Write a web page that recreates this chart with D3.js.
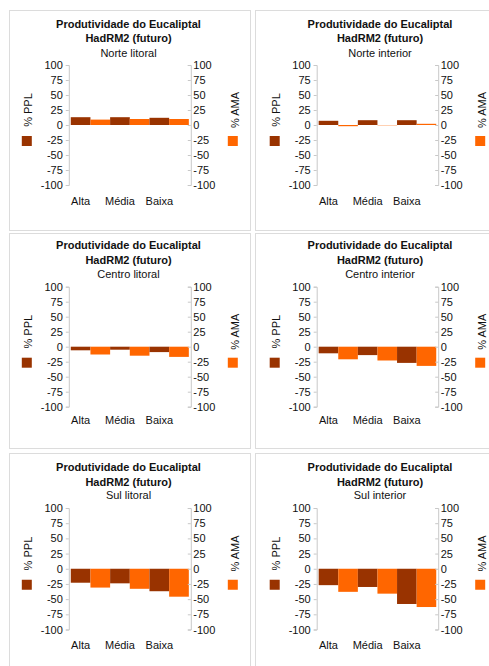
<!DOCTYPE html>
<html><head><meta charset="utf-8">
<script src="https://cdn.jsdelivr.net/npm/d3@7"></script>
<style>
body{margin:0;background:#fff}
svg{display:block}
text{font-family:"Liberation Sans",Arial,Helvetica,sans-serif}
</style>
</head><body>
<svg id="c" width="489" height="666"></svg>
<script>
// ---- data ----
const categories = ["Alta", "Média", "Baixa"];
const seriesKeys = ["PPL", "AMA"];
const seriesLabels = ["% PPL", "% AMA"];
const regions = ["Norte litoral", "Norte interior", "Centro litoral", "Centro interior", "Sul litoral", "Sul interior"];
const pplValues = [
  [13, 13, 12],
  [7, 8, 8],
  [-6, -5, -9],
  [-11, -14, -27],
  [-23, -24, -37],
  [-27, -30, -58]
];
const amaValues = [
  [9, 10, 10],
  [-2, -0.5, 2],
  [-13, -15, -17],
  [-21, -23, -32],
  [-31, -33, -46],
  [-38, -41, -63]
];
const yTicks = [100, 75, 50, 25, 0, -25, -50, -75, -100];
const titleLine1 = "Produtividade do Eucaliptal";
const titleLine2 = "HadRM2 (futuro)";

// ---- layout ----
const colors = {PPL: "#993300", AMA: "#FF6600"};
const cols = [
  {panelX: 9, panelW: 241, axL: 68.8, axR: 190.8, titleX: 128.5},
  {panelX: 255, panelW: 241, axL: 316.7, axR: 438.2, titleX: 380}
];
const rows = [
  {panelY: 10, panelH: 220, t1: 27.5, t2: 42, t3: 56.5, yTop: 65, yBot: 185, cat: 205},
  {panelY: 233, panelH: 215, t1: 249, t2: 264, t3: 278, yTop: 286.7, yBot: 406.7, cat: 424},
  {panelY: 453, panelH: 230, t1: 471, t2: 485.5, t3: 499, yTop: 508, yBot: 629.5, cat: 648.5}
];

const svg = d3.select("#c");
const fs = 11;
const fmt = d => String(d); // plain hyphen-minus like the reference

regions.forEach((region, i) => {
  const col = cols[i % 2], row = rows[Math.floor(i / 2)];
  const g = svg.append("g");

  g.append("rect")
    .attr("x", col.panelX + 0.5).attr("y", row.panelY + 0.5)
    .attr("width", col.panelW).attr("height", row.panelH)
    .attr("fill", "none").attr("stroke", "#dcdcdc");

  // titles
  g.append("text").attr("x", col.titleX).attr("y", row.t1)
    .attr("text-anchor", "middle").attr("font-size", fs).attr("font-weight", "bold")
    .attr("fill", "#111").text(titleLine1);
  g.append("text").attr("x", col.titleX).attr("y", row.t2)
    .attr("text-anchor", "middle").attr("font-size", fs).attr("font-weight", "bold")
    .attr("fill", "#111").text(titleLine2);
  g.append("text").attr("x", col.titleX).attr("y", row.t3)
    .attr("text-anchor", "middle").attr("font-size", fs)
    .attr("fill", "#111").text(region);

  const y = d3.scaleLinear().domain([-100, 100]).range([row.yBot, row.yTop]);
  const x = d3.scaleBand().domain(categories).range([col.axL, col.axR])
    .paddingInner(0).paddingOuter(0.05);
  const xs = d3.scaleBand().domain(seriesKeys).range([0, x.bandwidth()]).padding(0);

  // bars
  const rowsData = categories.map((c, k) => ({cat: c, PPL: pplValues[i][k], AMA: amaValues[i][k]}));
  rowsData.forEach(d => {
    seriesKeys.forEach(s => {
      const v = d[s];
      g.append("rect")
        .attr("x", x(d.cat) + xs(s))
        .attr("width", xs.bandwidth())
        .attr("y", y(Math.max(0, v)))
        .attr("height", Math.abs(y(v) - y(0)))
        .attr("fill", colors[s]);
    });
  });

  // axes
  const axL = d3.axisLeft(y).tickValues(yTicks).tickFormat(fmt).tickSize(3).tickPadding(3);
  const axR = d3.axisRight(y).tickValues(yTicks).tickFormat(fmt).tickSize(-3).tickPadding(2.5);
  const gl = g.append("g").attr("transform", `translate(${col.axL},0)`).call(axL);
  const gr = g.append("g").attr("transform", `translate(${col.axR},0)`).call(axR);
  [gl, gr].forEach(a => {
    a.select(".domain").attr("stroke", "#c8c8c8");
    a.selectAll(".tick line").attr("stroke", "#c8c8c8");
    a.selectAll(".tick text").attr("font-size", fs).attr("fill", "#111")
      .style("font-family", '"Liberation Sans",Arial,sans-serif');
  });

  // category labels (centered on first-series bars)
  categories.forEach(c => {
    g.append("text")
      .attr("x", x(c) + xs("PPL") + xs.bandwidth() / 2)
      .attr("y", row.cat)
      .attr("text-anchor", "middle").attr("font-size", fs).attr("fill", "#111")
      .text(c);
  });

  // side labels and legend squares
  const labY = y(25);
  const sqY = y(0) + 11;
  g.append("text")
    .attr("transform", `translate(${col.axL - 37},${labY}) rotate(-90)`)
    .attr("text-anchor", "middle").attr("font-size", fs).attr("fill", "#111")
    .text(seriesLabels[0]);
  g.append("rect").attr("x", col.axL - 47).attr("y", sqY)
    .attr("width", 10).attr("height", 10).attr("fill", colors.PPL);
  g.append("text")
    .attr("transform", `translate(${col.axR + 48},${labY}) rotate(-90)`)
    .attr("text-anchor", "middle").attr("font-size", fs).attr("fill", "#111")
    .text(seriesLabels[1]);
  g.append("rect").attr("x", col.axR + 37).attr("y", sqY)
    .attr("width", 10).attr("height", 10).attr("fill", colors.AMA);
});
</script>
</body></html>
